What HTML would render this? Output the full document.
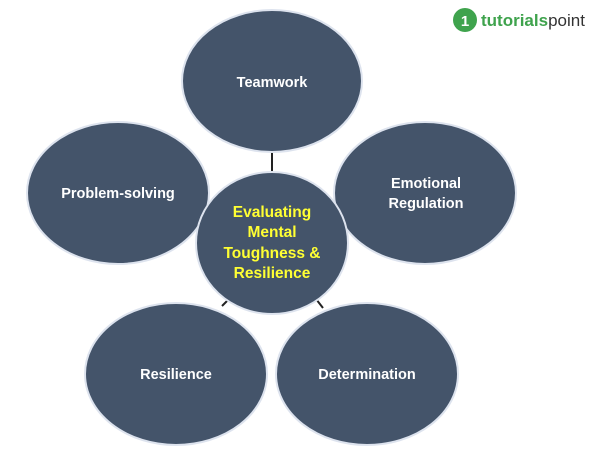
<!DOCTYPE html>
<html><head><style>body{margin:0;background:#fff}svg{display:block}</style></head><body>
<svg width="600" height="458" viewBox="0 0 600 458" xmlns="http://www.w3.org/2000/svg" font-family="'Liberation Sans',sans-serif" font-weight="bold" font-size="14.5" text-anchor="middle">
<g stroke="#222" stroke-width="2">
<line x1="272" y1="152" x2="272" y2="172"/>
<line x1="222" y1="306" x2="229" y2="299"/>
<line x1="316" y1="299" x2="323" y2="308"/>
</g>
<g fill="#44546a" stroke="#dde3ee" stroke-width="2">
<ellipse cx="272" cy="81" rx="90" ry="71"/>
<ellipse cx="118" cy="193" rx="91" ry="71"/>
<ellipse cx="425" cy="193" rx="91" ry="71"/>
<ellipse cx="176" cy="374" rx="91" ry="71"/>
<ellipse cx="367" cy="374" rx="91" ry="71"/>
<ellipse cx="272" cy="243" rx="76" ry="71"/>
</g>
<g fill="#fff">
<text x="272" y="87">Teamwork</text>
<text x="118" y="198">Problem-solving</text>
<text x="426" y="188">Emotional</text>
<text x="426" y="208">Regulation</text>
<text x="176" y="379">Resilience</text>
<text x="367" y="379">Determination</text>
</g>
<g fill="#ffff33" font-size="15.5">
<text x="272" y="217">Evaluating</text>
<text x="272" y="237">Mental</text>
<text x="272" y="258">Toughness &amp;</text>
<text x="272" y="278">Resilience</text>
</g>
<circle cx="465" cy="20" r="12" fill="#3fa34d"/>
<text x="465" y="26" fill="#fff" font-size="15">1</text>
<text x="481" y="26" text-anchor="start" font-size="17" fill="#3fa34d">tutorials<tspan fill="#333" font-weight="normal">point</tspan></text>
</svg>
</body></html>
